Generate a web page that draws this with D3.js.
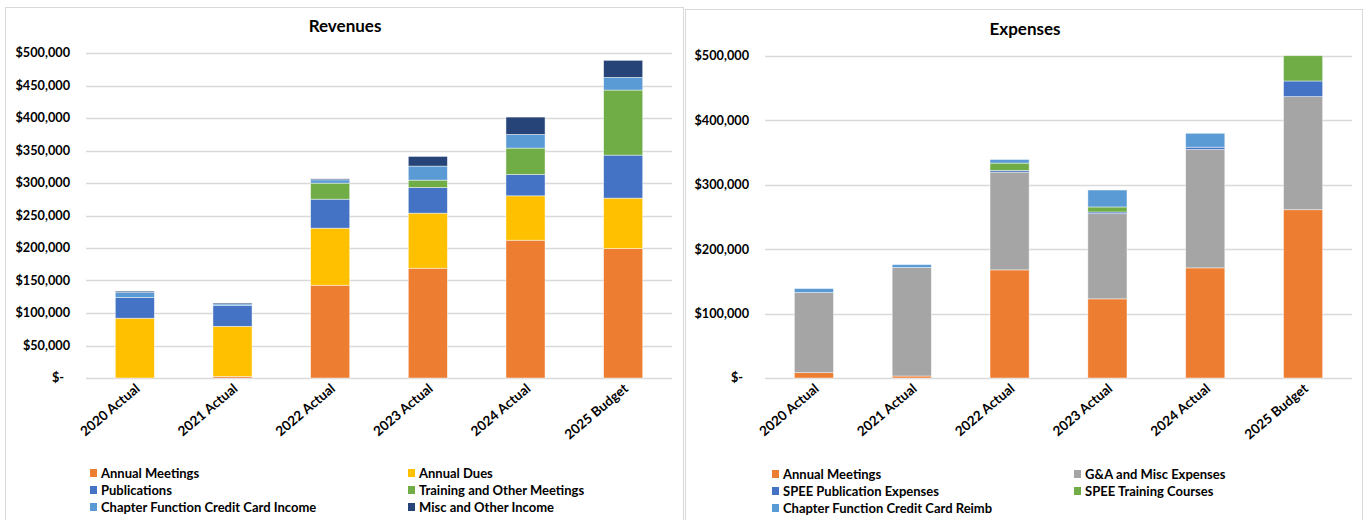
<!DOCTYPE html>
<html>
<head>
<meta charset="utf-8">
<script src="https://cdn.jsdelivr.net/npm/d3@7"></script>
<style>
  body { margin: 0; background: #fff; }
  svg { font-family: Lato, "Liberation Sans", sans-serif; }
</style>
</head>
<body>
<svg id="chart" width="1364" height="520"></svg>
<script>
// categories
var years = ["2020 Actual", "2021 Actual", "2022 Actual", "2023 Actual", "2024 Actual", "2025 Budget"];

// revenue series
var revAnnualMeetings = [0, 2500, 142700, 168900, 212000, 199200];
var revAnnualDues = [92000, 77000, 87800, 84700, 68300, 77500];
var revPublications = [31800, 31800, 44600, 39500, 32800, 66200];
var revTraining = [0, 0, 24700, 11300, 40600, 100100];
var revChapterIncome = [7700, 2600, 5100, 21600, 21000, 19500];
var revMisc = [2000, 1500, 1500, 14900, 26700, 26200];

// expense series
var expAnnualMeetings = [8300, 3100, 167900, 122900, 171000, 261300];
var expGA = [124400, 168400, 151800, 132300, 183800, 175600];
var expPublication = [0, 0, 2600, 2600, 3600, 24300];
var expTraining = [0, 0, 11400, 7800, 0, 39300];
var expChapterReimb = [6200, 4600, 5600, 26300, 21600, 0];

// tick values
var revTicks = [0, 50000, 100000, 150000, 200000, 250000, 300000, 350000, 400000, 450000, 500000];
var expTicks = [0, 100000, 200000, 300000, 400000, 500000];

var svg = d3.select("#chart");

function money(v) {
    if (v === 0) return "$-";
    return "$" + d3.format(",")(v);
}

function drawChart(opt) {
    var g = svg.append("g");

    // panel border
    g.append("rect")
        .attr("x", opt.panel[0] + 0.5)
        .attr("y", opt.panel[1] + 0.5)
        .attr("width", opt.panel[2])
        .attr("height", opt.panel[3])
        .attr("fill", "#fff")
        .attr("stroke", "#d9d9d9");

    g.append("text")
        .attr("x", opt.titleX)
        .attr("y", opt.titleY)
        .attr("text-anchor", "middle")
        .style("font-size", "17px")
        .style("font-weight", "bold")
        .attr("fill", "#000")
        .text(opt.title);

    var x = d3.scaleBand()
        .domain(years)
        .range([opt.left, opt.right])
        .paddingInner(0.6)
        .paddingOuter(0.3);

    var y = d3.scaleLinear()
        .domain([0, 500000])
        .range([opt.bottom, opt.top]);

    // gridlines
    g.append("g")
        .selectAll("line")
        .data(opt.ticks)
        .enter()
        .append("line")
        .attr("x1", opt.left)
        .attr("x2", opt.right)
        .attr("y1", d => Math.round(y(d)) + 0.5)
        .attr("y2", d => Math.round(y(d)) + 0.5)
        .attr("stroke", "#d9d9d9")
        .attr("stroke-width", 1.3);

    // y labels
    g.append("g")
        .selectAll("text")
        .data(opt.ticks)
        .enter()
        .append("text")
        .attr("x", d => d === 0 ? opt.left - 22 : opt.left - 16)
        .attr("y", d => y(d))
        .attr("dy", "0.35em")
        .attr("text-anchor", "end")
        .style("font-size", "12.7px")
        .style("font-weight", "bold")
        .attr("fill", "#000")
        .text(money);

    // stacked bars
    var rows = years.map(function (yr, i) {
        var r = { year: yr };
        opt.series.forEach(function (s) { r[s.name] = s.values[i]; });
        return r;
    });
    var stack = d3.stack().keys(opt.series.map(s => s.name));
    var layers = stack(rows);

    g.append("g")
        .selectAll("g")
        .data(layers)
        .enter()
        .append("g")
        .attr("fill", (d, i) => opt.series[i].color)
        .selectAll("rect")
        .data(d => d.filter(p => p[1] - p[0] > 0))
        .enter()
        .append("rect")
        .attr("x", d => x(d.data.year))
        .attr("width", x.bandwidth())
        .attr("y", d => y(d[1]))
        .attr("height", d => y(d[0]) - y(d[1]))
        .attr("stroke", "rgba(255,255,255,0.6)")
        .attr("stroke-width", 0.75);

    // x labels
    g.append("g")
        .selectAll("text")
        .data(years)
        .enter()
        .append("text")
        .attr("transform", d => "translate(" + (x(d) + x.bandwidth() / 2 + 6) + "," + (opt.bottom + 12) + ") rotate(-40)")
        .attr("text-anchor", "end")
        .style("font-size", "13.5px")
        .style("font-weight", "bold")
        .attr("fill", "#000")
        .text(d => d);

    // legend
    var legend = g.append("g")
        .selectAll("g")
        .data(opt.series)
        .enter()
        .append("g")
        .attr("transform", (d, i) => "translate(" + opt.legendX[i % 2] + "," + (opt.legendY + Math.floor(i / 2) * 17) + ")");

    legend.append("rect")
        .attr("x", 0)
        .attr("y", -4)
        .attr("width", 7)
        .attr("height", 8)
        .attr("fill", d => d.color);

    legend.append("text")
        .attr("x", 11)
        .attr("y", 0)
        .attr("dy", "0.35em")
        .style("font-size", "13px")
        .style("font-weight", "bold")
        .attr("fill", "#000")
        .text(d => d.name);
}

drawChart({
    title: "Revenues",
    panel: [5, 7, 678, 520],
    titleX: 345, titleY: 32,
    left: 86, right: 672, top: 53, bottom: 378,
    ticks: revTicks,
    legendX: [90, 408], legendY: 473,
    series: [
        { name: "Annual Meetings", values: revAnnualMeetings, color: "#ED7D31" },
        { name: "Annual Dues", values: revAnnualDues, color: "#FFC000" },
        { name: "Publications", values: revPublications, color: "#4472C4" },
        { name: "Training and Other Meetings", values: revTraining, color: "#70AD47" },
        { name: "Chapter Function Credit Card Income", values: revChapterIncome, color: "#5B9BD5" },
        { name: "Misc and Other Income", values: revMisc, color: "#264478" }
    ]
});

drawChart({
    title: "Expenses",
    panel: [685, 9, 677, 520],
    titleX: 1025, titleY: 35,
    left: 765, right: 1352, top: 56, bottom: 378,
    ticks: expTicks,
    legendX: [772, 1074], legendY: 474,
    series: [
        { name: "Annual Meetings", values: expAnnualMeetings, color: "#ED7D31" },
        { name: "G&A and Misc Expenses", values: expGA, color: "#A5A5A5" },
        { name: "SPEE Publication Expenses", values: expPublication, color: "#4472C4" },
        { name: "SPEE Training Courses", values: expTraining, color: "#70AD47" },
        { name: "Chapter Function Credit Card Reimb", values: expChapterReimb, color: "#5B9BD5" }
    ]
});
</script>
</body>
</html>
